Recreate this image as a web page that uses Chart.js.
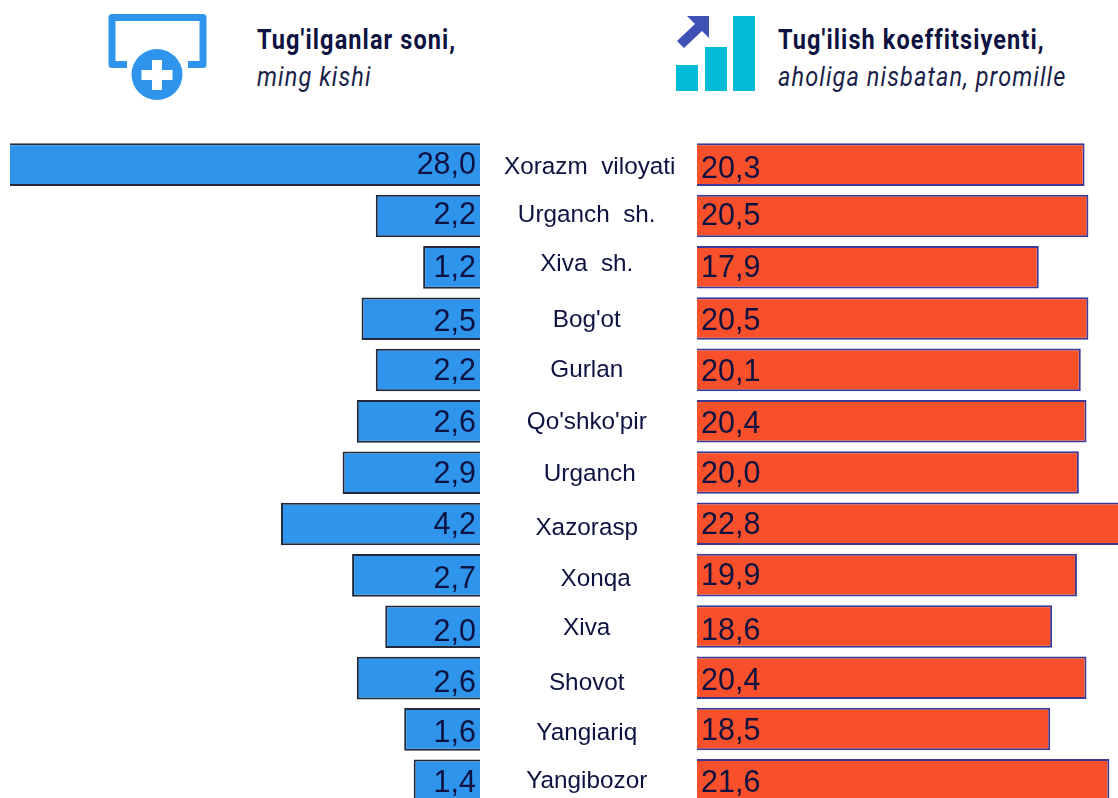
<!DOCTYPE html>
<html><head><meta charset="utf-8">
<script src="https://cdn.jsdelivr.net/npm/chart.js@4"></script>
<style>
html,body{margin:0;padding:0;background:#fff;overflow:hidden}
#page{position:relative;width:1118px;height:798px;overflow:hidden;background:#fff}
canvas{position:absolute;top:0;display:block}
svg{position:absolute;left:0;top:0}
.h{position:absolute;white-space:nowrap;color:#0d1240;font-family:Roboto,sans-serif;transform-origin:0 0;transform:scaleX(.84);font-size:28px;line-height:32px;letter-spacing:1.3px}
.b{font-weight:700}.i{font-style:italic;font-weight:400;color:#1a1f4a}
</style></head><body>
<div id="page">
<svg width="1118" height="130" viewBox="0 0 1118 130">
<path d="M127 64.500H112V17.500H203V64.500H188" fill="none" stroke="#2E94EC" stroke-width="7" stroke-linejoin="round"/>
<circle cx="157" cy="74.500" r="25.500" fill="#2E94EC"/>
<path d="M152 60h10v10h10.500v10h-10.500v10h-10v-10h-10.500v-10h10.500z" fill="#fff"/>
<rect x="676" y="65" width="22" height="26" fill="#00BCD8"/>
<rect x="705" y="47" width="22" height="44" fill="#00BCD8"/>
<rect x="733" y="16" width="22" height="75" fill="#00BCD8"/>
<path d="M687 16H709V38L702 31L684 48L677 41L695 24Z" fill="#3F51B5"/>
</svg>
<div class="h b" style="left:257px;top:24px">Tug'ilganlar soni,</div>
<div class="h i" style="left:257px;top:61px">ming kishi</div>
<div class="h b" style="left:778px;top:24px">Tug'ilish koeffitsiyenti,</div>
<div class="h i" style="left:778px;top:61px">aholiga nisbatan, promille</div>
<canvas id="left" width="697" height="821" style="left:0"></canvas>
<canvas id="right" width="421" height="806" style="left:697px"></canvas>
</div>
<script>
const categories = ["Xorazm  viloyati","Urganch  sh.","Xiva  sh.","Bog'ot","Gurlan","Qo'shko'pir","Urganch","Xazorasp","Xonqa","Xiva","Shovot","Yangiariq","Yangibozor"];
const birthsThousand = [28.0,2.2,1.2,2.5,2.2,2.6,2.9,4.2,2.7,2.0,2.6,1.6,1.4];
const birthRatePromille = [20.3,20.5,17.9,20.5,20.1,20.4,20.0,22.8,19.9,18.6,20.4,18.5,21.6];

const INK = '#0d1240';
const fmt = v => v.toFixed(1).replace('.', ',');

function valueLabels(side, nudges){
  return {
    id:'valueLabels'+side,
    afterDatasetsDraw(chart){
      const ctx = chart.ctx, meta = chart.getDatasetMeta(0), ds = chart.data.datasets[0];
      ctx.save();
      ctx.font = '30.5px "Liberation Sans", Arial, sans-serif';
      ctx.fillStyle = INK;
      ctx.textBaseline = 'middle';
      ctx.textAlign = side === 'left' ? 'right' : 'left';
      const x = side === 'left' ? chart.chartArea.right - 4 : chart.chartArea.left + 4;
      meta.data.forEach((el,i) => ctx.fillText(fmt(ds.data[i]), x, el.y + nudges[i]));
      ctx.restore();
    }
  };
}
const tickNudge = {
  id:'tickNudge',
  beforeDraw(chart){
    const dy = [3,-1,-3,2,0,1,2,4,4,2,5,4,1];
    const dx = [16,13,13,13,13,13,16,13,22,13,13,13,13];
    if (chart.$nudged) return;
    chart.$nudged = true;
    chart.scales.y.getLabelItems().forEach((it,i) => {
      it.options.translation = [it.options.translation[0] + dx[i], it.options.translation[1] + dy[i]];
    });
  }
};
function base(data, fill, edge, xOpts, yOpts, padding, plugins, id){
  return new Chart(document.getElementById(id), {
    type:'bar',
    data:{labels:categories, datasets:[{data, backgroundColor:fill, borderColor:edge, borderWidth:2, borderSkipped:'start', barPercentage:.83, categoryPercentage:1, clip:0}]},
    options:{
      indexAxis:'y', responsive:false, animation:false, events:[],
      layout:{padding},
      plugins:{legend:{display:false}, tooltip:{enabled:false}, title:{display:false}},
      scales:{x:xOpts, y:yOpts}
    },
    plugins
  });
}
base(birthsThousand, '#2E94EC', '#23283a',
  {type:'linear', reverse:true, min:0, max:9.92, display:false},
  {type:'category', position:'right', offset:true, grid:{display:false}, border:{display:false},
   afterFit(s){ s.width = 217; },
   ticks:{autoSkip:false, padding:0, crossAlign:'center', color:INK, font:{family:'"Liberation Sans", Arial, sans-serif', size:24.3}}},
  {left:10, right:0, top:139, bottom:0},
  [valueLabels('left',[1,0,1,4,2,2,2,2,4,6,6,4,3]), tickNudge], 'left');
base(birthRatePromille, '#F8502B', '#3b3a96',
  {type:'linear', min:0, max:22.05, display:false},
  {type:'category', offset:true, display:false},
  {left:0, right:0, top:139, bottom:0},
  [valueLabels('right',[5,1,1,3,3,3,2,2,1,5,4,3,3])], 'right');
</script>
</body></html>
